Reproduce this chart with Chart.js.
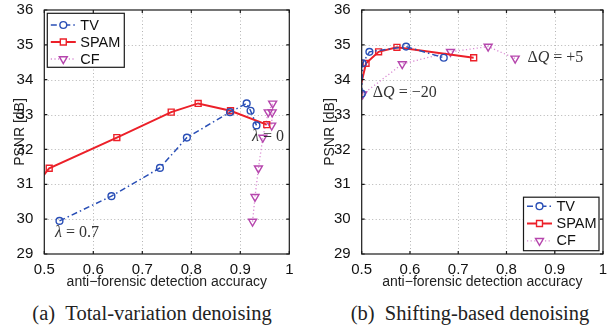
<!DOCTYPE html>
<html>
<head>
<meta charset="utf-8">
<script src="https://cdn.jsdelivr.net/npm/chart.js@4/dist/chart.umd.min.js"></script>
<style>
  html, body { margin: 0; padding: 0; background: #fff; }
  #page { position: relative; width: 609px; height: 331px; overflow: hidden; }
  .panel { position: absolute; top: 0; }
  .caption {
    position: absolute; top: 302px; white-space: nowrap; transform: translateX(-50%);
    font-family: "Liberation Serif", "Times New Roman", serif; font-size: 20.5px; color: #222;
  }
</style>
</head>
<body>
<div id="page">
  <canvas id="chartA" class="panel" style="left:0" width="300" height="300"></canvas>
  <canvas id="chartB" class="panel" style="left:300px" width="309" height="300"></canvas>
  <div class="caption" style="left:152px">(a)&nbsp;&nbsp;Total-variation denoising</div>
  <div class="caption" style="left:470px">(b)&nbsp;&nbsp;Shifting-based denoising</div>
</div>
<script>
// axes
const xTicks = [0.5, 0.6, 0.7, 0.8, 0.9, 1];
const yTicks = [29, 30, 31, 32, 33, 34, 35, 36];
const xTitle = "anti\u2212forensic detection accuracy";
const yTitle = "PSNR [dB]";

// (a) total-variation denoising
const tvAccA = [0.531, 0.637, 0.736, 0.791, 0.879, 0.913, 0.921, 0.933];
const tvPsnrA = [29.95, 30.66, 31.47, 32.34, 33.07, 33.32, 33.11, 32.69];
const spamAccA = [0.466, 0.510, 0.648, 0.759, 0.814, 0.880, 0.954];
const spamPsnrA = [30.66, 31.46, 32.34, 33.07, 33.32, 33.11, 32.71];
const cfAccA = [0.925, 0.930, 0.937, 0.946, 0.957, 0.966, 0.965, 0.964];
const cfPsnrA = [29.93, 30.64, 31.46, 32.34, 33.07, 33.32, 33.07, 32.69];

// (b) shifting-based denoising
const tvAccB = [0.500, 0.502, 0.516, 0.592, 0.670];
const tvPsnrB = [33.60, 34.47, 34.80, 34.95, 34.63];
const spamAccB = [0.494, 0.509, 0.535, 0.573, 0.732];
const spamPsnrB = [33.60, 34.47, 34.80, 34.93, 34.63];
const cfAccB = [0.502, 0.584, 0.684, 0.762, 0.818];
const cfPsnrB = [33.58, 34.45, 34.80, 34.95, 34.61];

// text notes, anchored in data coordinates (left edge, middle)
const notesA = [
  { x: 0.522, y: 29.6, runs: [{ t: "\u03bb", it: true }, { t: " = 0.7" }] },
  { x: 0.924, y: 32.36, runs: [{ t: "\u03bb", it: true }, { t: " = 0" }] },
];
const notesB = [
  { x: 0.523, y: 33.62, runs: [{ t: "\u0394" }, { t: "Q", it: true }, { t: " = \u221220" }] },
  { x: 0.8435, y: 34.62, runs: [{ t: "\u0394" }, { t: "Q", it: true }, { t: " = +5" }] },
];

const SANS = '"Liberation Sans", Arial, sans-serif';
const SERIF = '"Liberation Serif", "Times New Roman", serif';

const looks = {
  TV: { mark: "#2a4fb6", line: "#2a4fb6", width: 1.5, dash: [6, 3, 1.5, 3], point: "circle", radius: 3.4, rot: 0 },
  SPAM: { mark: "#ec2029", line: "#ec2029", width: 2, dash: [], point: "rect", radius: 4.2, rot: 0 },
  CF: { mark: "#b646ad", line: "#d98ad3", width: 1.3, dash: [1.2, 2.4], point: "triangle", radius: 4.6, rot: 180 },
};

function makeDataset(name, xs, ys) {
  const s = looks[name];
  return {
    label: name,
    data: xs.map((x, i) => ({ x: x, y: ys[i] })),
    borderColor: s.line,
    borderWidth: s.width,
    borderDash: s.dash,
    pointStyle: s.point,
    pointRadius: s.radius,
    pointRotation: s.rot,
    pointBorderColor: s.mark,
    pointBackgroundColor: "rgba(0,0,0,0)",
    pointBorderWidth: 1.4,
    tension: 0,
    fill: false,
  };
}

// matlab-like frame: dotted grid, boxed axes, inner ticks, notes and legend
const matlabFrame = {
  id: "matlabFrame",
  beforeDatasetsDraw(chart) {
    const { ctx, chartArea: a, scales } = chart;
    ctx.save();
    ctx.strokeStyle = "#b4b4b4";
    ctx.lineWidth = 1;
    ctx.setLineDash([1, 2.5]);
    xTicks.slice(1, -1).forEach((v) => {
      const px = Math.round(scales.x.getPixelForValue(v)) + 0.5;
      ctx.beginPath(); ctx.moveTo(px, a.top); ctx.lineTo(px, a.bottom); ctx.stroke();
    });
    yTicks.slice(1, -1).forEach((v) => {
      const py = Math.round(scales.y.getPixelForValue(v)) + 0.5;
      ctx.beginPath(); ctx.moveTo(a.left, py); ctx.lineTo(a.right, py); ctx.stroke();
    });
    ctx.restore();
  },
  afterDatasetsDraw(chart, args, opts) {
    const { ctx, chartArea: a, scales } = chart;
    ctx.save();
    // box + ticks
    ctx.strokeStyle = "#1a1a1a";
    ctx.lineWidth = 1.2;
    ctx.setLineDash([]);
    ctx.strokeRect(a.left, a.top, a.right - a.left, a.bottom - a.top);
    ctx.beginPath();
    xTicks.forEach((v) => {
      const px = scales.x.getPixelForValue(v);
      ctx.moveTo(px, a.bottom); ctx.lineTo(px, a.bottom - 3);
      ctx.moveTo(px, a.top); ctx.lineTo(px, a.top + 3);
    });
    yTicks.forEach((v) => {
      const py = scales.y.getPixelForValue(v);
      ctx.moveTo(a.left, py); ctx.lineTo(a.left + 3, py);
      ctx.moveTo(a.right, py); ctx.lineTo(a.right - 3, py);
    });
    ctx.stroke();

    // notes
    ctx.fillStyle = "#333";
    ctx.textBaseline = "middle";
    ctx.textAlign = "left";
    (opts.notes || []).forEach((n) => {
      let cx = scales.x.getPixelForValue(n.x);
      const cy = scales.y.getPixelForValue(n.y);
      n.runs.forEach((r) => {
        ctx.font = (r.it ? "italic " : "") + "16px " + SERIF;
        ctx.fillText(r.t, cx, cy);
        cx += ctx.measureText(r.t).width;
      });
    });

    // legend
    const L = opts.legend;
    const bx = L.corner === "tl" ? a.left + L.dx : a.right - L.dx - L.w;
    const by = L.corner === "tl" ? a.top + L.dy : a.bottom - L.dy - L.h;
    ctx.fillStyle = "#fff";
    ctx.fillRect(bx, by, L.w, L.h);
    ctx.strokeStyle = "#1a1a1a";
    ctx.lineWidth = 1.2;
    ctx.strokeRect(bx, by, L.w, L.h);
    chart.data.datasets.forEach((ds, i) => {
      const s = looks[ds.label];
      const ry = by + L.row0 + i * L.step;
      ctx.save();
      ctx.strokeStyle = s.line;
      ctx.lineWidth = s.width;
      ctx.setLineDash(s.dash);
      ctx.beginPath(); ctx.moveTo(bx + 3.5, ry); ctx.lineTo(bx + 28.5, ry); ctx.stroke();
      ctx.setLineDash([]);
      ctx.strokeStyle = s.mark;
      ctx.fillStyle = "#fff";
      ctx.lineWidth = 1.4;
      Chart.helpers.drawPoint(ctx, { pointStyle: s.point, radius: s.radius, rotation: s.rot, borderWidth: 1.4 }, bx + 16, ry);
      ctx.restore();
      ctx.fillStyle = "#111";
      ctx.font = "14.5px " + SANS;
      ctx.textBaseline = "middle";
      ctx.fillText(ds.label, bx + 33, ry + 0.5);
    });
    ctx.restore();
  },
};

function buildChart(id, datasets, yWidth, yTitlePad, padRight, notes, legend) {
  return new Chart(document.getElementById(id), {
    type: "line",
    data: { datasets: datasets },
    plugins: [matlabFrame],
    options: {
      responsive: false,
      animation: false,
      layout: { padding: { left: 0, right: padRight, top: 10, bottom: 9.9 } },
      plugins: {
        legend: { display: false },
        tooltip: { enabled: false },
        matlabFrame: { notes: notes, legend: legend },
      },
      scales: {
        x: {
          type: "linear",
          min: 0.5,
          max: 1,
          afterBuildTicks: (s) => { s.ticks = xTicks.map((v) => ({ value: v })); },
          afterFit: (s) => { s.height = 36.1; s.paddingLeft = 0; s.paddingRight = 0; },
          grid: { display: false },
          border: { display: false },
          ticks: {
            autoSkip: false, maxRotation: 0, padding: -1, color: "#111",
            font: { family: SANS, size: 15 },
            callback: (v) => String(v),
          },
          title: { display: true, text: xTitle, color: "#222", padding: 0, font: { family: SANS, size: 14 } },
        },
        y: {
          type: "linear",
          min: 29,
          max: 36,
          afterBuildTicks: (s) => { s.ticks = yTicks.map((v) => ({ value: v })); },
          afterFit: (s) => { s.width = yWidth; s.paddingTop = 0; s.paddingBottom = 0; },
          grid: { display: false },
          border: { display: false },
          ticks: { padding: 3, color: "#111", font: { family: SANS, size: 15 } },
          title: { display: true, text: yTitle, color: "#222", padding: { top: yTitlePad, bottom: 0 }, font: { family: SANS, size: 14 } },
        },
      },
    },
  });
}

buildChart(
  "chartA",
  [makeDataset("TV", tvAccA, tvPsnrA), makeDataset("SPAM", spamAccA, spamPsnrA), makeDataset("CF", cfAccA, cfPsnrA)],
  44.3, 11.3, 10.7, notesA,
  { corner: "tl", dx: 3, dy: 3.3, w: 77, h: 54, row0: 11.7, step: 17 }
);
buildChart(
  "chartB",
  [makeDataset("TV", tvAccB, tvPsnrB), makeDataset("SPAM", spamAccB, spamPsnrB), makeDataset("CF", cfAccB, cfPsnrB)],
  61.7, 21.3, 2.3, notesB,
  { corner: "br", dx: 4, dy: 3.3, w: 75.5, h: 53.5, row0: 9, step: 17.3 }
);
</script>
</body>
</html>
